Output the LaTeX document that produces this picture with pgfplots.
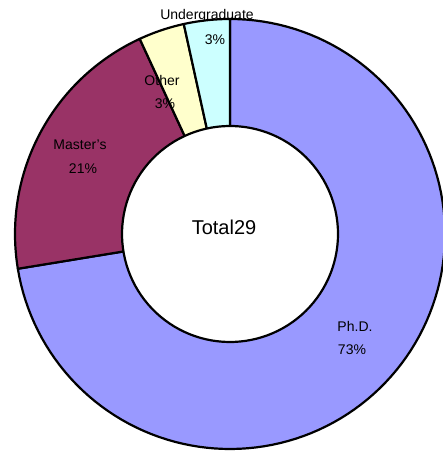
\documentclass[border=0pt]{standalone}
\usepackage{fontspec}
\setmainfont{Liberation Sans}
\usepackage{pgfplots}
\pgfplotsset{compat=1.18}
\definecolor{cphd}{HTML}{9999FF}
\definecolor{cmas}{HTML}{993366}
\definecolor{coth}{HTML}{FFFFCC}
\definecolor{cund}{HTML}{CCFFFF}
\tikzset{lbl/.style={font=\fontsize{14}{16}\selectfont, text=black}}

% counts: Ph.D., Master's, Other, Undergraduate
\def\vphd{21}
\def\vmas{6}
\def\voth{1}
\def\vund{1}

\begin{document}
\begin{tikzpicture}
\pgfmathsetmacro{\tot}{\vphd+\vmas+\voth+\vund}
\pgfmathsetmacro{\aA}{90}
\pgfmathsetmacro{\aB}{\aA-360*\vphd/\tot}
\pgfmathsetmacro{\aC}{\aB-360*\vmas/\tot}
\pgfmathsetmacro{\aD}{\aC-360*\voth/\tot}
\pgfmathsetmacro{\aE}{\aD-360*\vund/\tot}
\begin{axis}[
    hide axis,
    scale only axis,
    width=443pt, height=452pt,
    xmin=0, xmax=443, ymin=0, ymax=452,
    every axis plot/.append style={draw=black, line width=2.2pt, line join=round, samples=120, variable=\t},
]
\addplot[fill=cphd, domain=\aB:\aA] ({230+215*cos(t)},{218+215*sin(t)}) -- (axis cs:230,218) -- cycle;
\addplot[fill=cmas, domain=\aC:\aB] ({230+215*cos(t)},{218+215*sin(t)}) -- (axis cs:230,218) -- cycle;
\addplot[fill=coth, domain=\aD:\aC] ({230+215*cos(t)},{218+215*sin(t)}) -- (axis cs:230,218) -- cycle;
\addplot[fill=cund, domain=\aE:\aD] ({230+215*cos(t)},{218+215*sin(t)}) -- (axis cs:230,218) -- cycle;
\addplot[fill=white, domain=0:360] ({230+108*cos(t)},{218+108*sin(t)}) -- cycle;

\node[lbl] at (axis cs:355,126) {Ph.D.};
\node[lbl] at (axis cs:352,102) {73\%};
\node[lbl] at (axis cs:80,307) {Master's};
\node[lbl] at (axis cs:83,283) {21\%};
\node[lbl] at (axis cs:162,371) {Other};
\node[lbl] at (axis cs:165,348) {3\%};
\node[lbl] at (axis cs:207,436) {Undergraduate};
\node[lbl] at (axis cs:215,412) {3\%};
\node[font=\fontsize{20}{24}\selectfont] at (axis cs:224,225) {Total29};
\end{axis}
\pgfresetboundingbox
\path[use as bounding box] (current axis.south west) rectangle (current axis.north east);
\end{tikzpicture}
\end{document}
